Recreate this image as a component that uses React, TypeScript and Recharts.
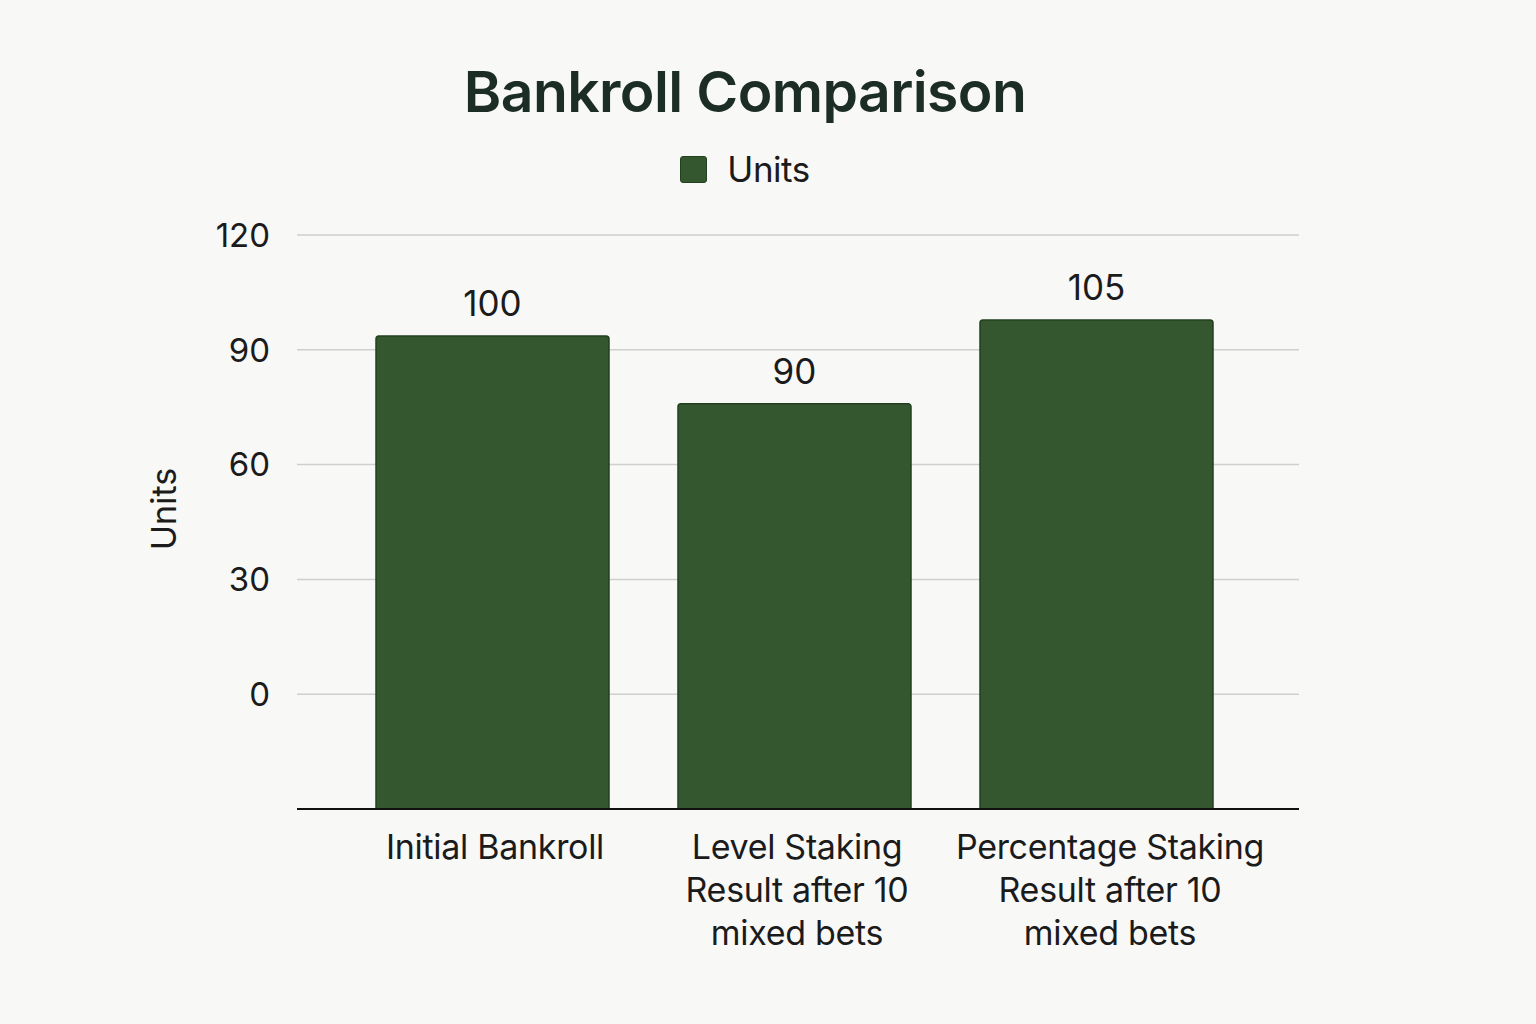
import { Bar, BarChart, CartesianGrid, LabelList, XAxis, YAxis } from "recharts";

const categories = ["Initial Bankroll", "Level Staking", "Percentage Staking"];
const categoryLines = [
  ["Initial Bankroll"],
  ["Level Staking", "Result after 10", "mixed bets"],
  ["Percentage Staking", "Result after 10", "mixed bets"],
];
// bar tops as drawn against the axis, and the value labels printed above them
const barTops = [93.6, 75.9, 97.8];
const barLabels = [100, 90, 105];
const axisFloor = -30;
const yTicks = [0, 30, 60, 90, 120];

const data = categories.map((name, i) => ({
  name,
  units: [axisFloor, barTops[i]],
  label: barLabels[i],
}));

const FONT = "Inter, 'Noto Sans', sans-serif";
const BAR = "#35572f";
const TEXT = "#1b1b1b";

const CategoryTick = ({ x, y, payload, index }: any) => {
  const lines = categoryLines[index] ?? [payload.value];
  return (
    <g transform={`translate(${x},${y})`}>
      {lines.map((line, i) => (
        <text
          key={line}
          x={index === 2 ? 14 : 3}
          y={i * 43 + 42}
          textAnchor="middle"
          fill={TEXT}
          fontSize={34}
          fontFamily={FONT}
          letterSpacing={-0.3}
        >
          {line}
        </text>
      ))}
    </g>
  );
};

const UnitsLabel = ({ viewBox }: any) => {
  const cx = 163;
  const cy = viewBox.y + viewBox.height / 2 - 13;
  return (
    <text
      x={cx}
      y={cy}
      transform={`rotate(-90, ${cx}, ${cy})`}
      textAnchor="middle"
      dominantBaseline="central"
      fill={TEXT}
      fontSize={34}
      fontFamily={FONT}
    >
      Units
    </text>
  );
};

export default function App() {
  return (
    <div
      style={{
        position: "absolute",
        left: 0,
        top: 0,
        width: 1536,
        height: 1024,
        background: "#f8f8f7",
        fontFamily: FONT,
      }}
    >
      <div
        style={{
          position: "absolute",
          top: 57,
          left: 0,
          width: 1490,
          textAlign: "center",
          fontSize: 57,
          fontWeight: 600,
          color: "#1c2d26",
          letterSpacing: -0.6,
        }}
      >
        Bankroll Comparison
      </div>
      <div
        style={{
          position: "absolute",
          top: 148,
          left: 0,
          width: 1490,
          display: "flex",
          justifyContent: "center",
          alignItems: "center",
          gap: 20,
          fontSize: 35,
          color: TEXT,
        }}
      >
        <span
          style={{
            display: "inline-block",
            width: 25,
            height: 25,
            borderRadius: 3,
            background: BAR,
            border: "1px solid #244020",
          }}
        />
        <span style={{ letterSpacing: -0.5 }}>Units</span>
      </div>
      <BarChart
        width={1536}
        height={1024}
        data={data}
        margin={{ top: 235, right: 237, bottom: 55, left: 0 }}
        style={{ position: "absolute", left: 0, top: 0 }}
      >
        <CartesianGrid vertical={false} stroke="#cfcfcf" strokeWidth={1.5} />
        <XAxis
          dataKey="name"
          height={160}
          padding={{ left: 44, right: 52 }}
          axisLine={{ stroke: "#111", strokeWidth: 2 }}
          tickLine={false}
          interval={0}
          tick={<CategoryTick />}
        />
        <YAxis
          width={297}
          domain={[axisFloor, 120]}
          ticks={yTicks}
          axisLine={false}
          tickLine={false}
          tickSize={0}
          tickMargin={27}
          tick={{ fill: TEXT, fontSize: 33, fontFamily: FONT }}
          label={<UnitsLabel />}
        />
        <Bar
          dataKey="units"
          fill={BAR}
          stroke="#233f20"
          strokeWidth={1.5}
          barSize={233}
          radius={[3, 3, 0, 0]}
          isAnimationActive={false}
        >
          <LabelList
            dataKey="label"
            position="top"
            offset={20}
            fill={TEXT}
            fontSize={35}
            fontFamily={FONT}
          />
        </Bar>
      </BarChart>
    </div>
  );
}
